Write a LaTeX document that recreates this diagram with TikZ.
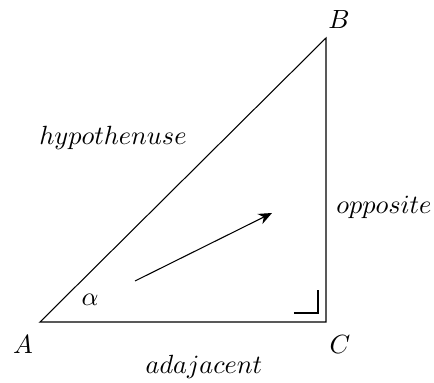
\documentclass[tikz,border=0pt]{standalone}
\usepackage{amsmath}
\usetikzlibrary{arrows.meta,positioning}

\begin{document}
\begin{tikzpicture}[x=0.38pt,y=0.38pt,
    side/.style={thin,black},
    lbl/.style={inner sep=0pt},
    arr/.style={-{Stealth[length=1.8mm,width=1.5mm]},thin}]
    \useasboundingbox (0,0) rectangle (434,383);
    % corners of the triangle
    \coordinate (A) at (40,61);
    \coordinate (B) at (326,345);
    \coordinate (C) at (326,61);
    \draw[side] (A)--(B)--(C)--cycle;
    % right angle at C
    \coordinate (r1) at (294,70); \coordinate (r2) at (318,70); \coordinate (r3) at (318,93);
    \draw[side] (r1)--(r2)--(r3);
    % arrow inside
    \coordinate (p) at (135,102); \coordinate (q) at (272,170);
    \draw[arr] (p)--(q);
    \node[lbl] (labA) at (23,38) {$A$};
    \node[lbl] (labB) at (339,363) {$B$};
    \node[lbl] (labC) at (340,38) {$C$};
    \node[lbl] (alpha) at (90,83) {$\alpha$};
    \node[lbl] (hyp) at (113,245) {$hypothenuse$};
    \node[lbl] (opp) at (384,176) {$opposite$};
    \node[lbl] (adj) at (204,16.5) {$adajacent$};
  \end{tikzpicture}
\end{document}
